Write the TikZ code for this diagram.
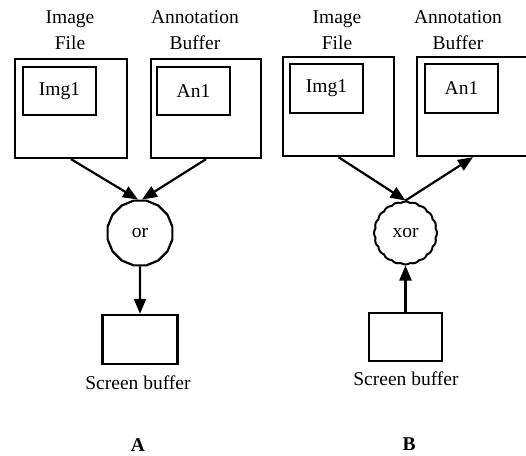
\documentclass[tikz,border=0pt]{standalone}
\usepackage{fontspec}
\setmainfont{Liberation Serif}
\usetikzlibrary{arrows.meta, shapes.geometric, shapes.symbols}
\tikzset{
  buf/.style={draw, line width=2.3pt, inner sep=0pt},
  gateor/.style={draw, line width=2.2pt, regular polygon, regular polygon sides=16,
    minimum size=66pt, inner sep=0pt},
  gatexor/.style={draw, line width=2pt, cloud, cloud puffs=20, cloud puff arc=70,
    aspect=1, minimum width=63pt, minimum height=63pt, inner sep=0pt},
  flow/.style={->, line width=2.2pt}
}

\begin{document}
\begin{tikzpicture}[x=1pt, y=-1pt, >={Triangle[length=15pt, width=12pt]},
    font=\fontsize{19.5}{26}\selectfont]
  \useasboundingbox (0,0) rectangle (526,455);

  % Part A
  \node[align=center] (imgAlbl) at (70,30) {Image\\File};
  \node[align=center] (annAlbl) at (195,30) {Annotation\\Buffer};
  \node[buf, minimum width=112pt, minimum height=99pt] (imgA) at (71,108.5) {};
  \node[buf, minimum width=73pt, minimum height=48pt] (imgAin) at (59.5,91) {Img1};
  \node[buf, minimum width=110pt, minimum height=99pt] (annA) at (206,108.5) {};
  \node[buf, minimum width=73pt, minimum height=48pt] (annAin) at (193.5,91) {An1};
  \node[gateor] (orgate) at (140,233) {or};
  \node[buf, minimum width=75pt, minimum height=49pt] (scrA) at (140,339.5) {};
  \node (scrAlbl) at (138,383) {Screen buffer};
  \node[font=\fontsize{19.5}{26}\selectfont\bfseries] (partA) at (138,445) {A};

  \draw[flow] (imgA.south) -- ([xshift=-2pt]orgate.north);
  \draw[flow] (annA.south) -- ([xshift=2pt]orgate.north);
  \draw[flow] (orgate.south) -- (scrA.north);

  % Part B
  \node[align=center] (imgBlbl) at (337,30) {Image\\File};
  \node[align=center] (annBlbl) at (458,30) {Annotation\\Buffer};
  \node[buf, minimum width=111pt, minimum height=99pt] (imgB) at (338.5,106.5) {};
  \node[buf, minimum width=73pt, minimum height=49pt] (imgBin) at (326.5,88.5) {Img1};
  \node[buf, minimum width=112pt, minimum height=99pt] (annB) at (473,106.5) {};
  \node[buf, minimum width=73pt, minimum height=49pt] (annBin) at (461.5,88.5) {An1};
  \node[gatexor] (xorgate) at (405.5,233) {xor};
  \node[buf, minimum width=73pt, minimum height=48pt] (scrB) at (405.5,337) {};
  \node (scrBlbl) at (406,379) {Screen buffer};
  \node[font=\fontsize{19.5}{26}\selectfont\bfseries] (partB) at (409,444) {B};

  \draw[flow] (imgB.south) -- (xorgate.north);
  \draw[flow] (xorgate.north) -- (annB.south);
  \draw[flow] (scrB.north) -- (xorgate.south);
\end{tikzpicture}
\end{document}
